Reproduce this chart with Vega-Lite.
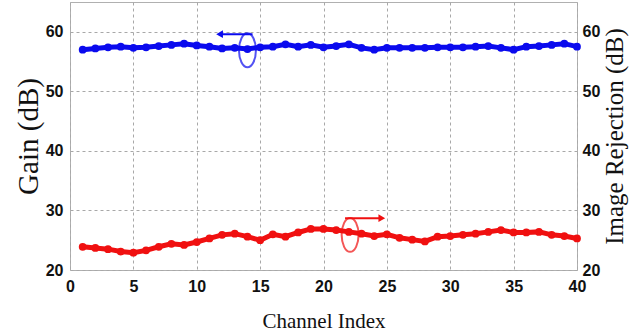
{
  "$schema": "https://vega.github.io/schema/vega-lite/v6.json",
  "width": 507,
  "height": 268,
  "autosize": {"type": "none"},
  "padding": {"left": 70, "top": 2, "right": 63, "bottom": 65},
  "background": "white",
  "config": {
    "view": {"stroke": "#b0b0b0", "strokeWidth": 1},
    "axis": {
      "labelFont": "Liberation Sans",
      "labelFontWeight": "bold",
      "labelFontSize": 16,
      "labelColor": "#111",
      "labelFlush": false,
      "titleFont": "Liberation Serif",
      "titleFontWeight": "normal",
      "titleColor": "#111",
      "domain": false,
      "ticks": false,
      "gridDash": [3, 3],
      "gridColor": "#a8a8a8",
      "gridWidth": 1,
      "gridOpacity": 1
    }
  },
  "datasets": {
    "gain": [
      {"ch": 1, "v": 57.0}, {"ch": 2, "v": 57.2}, {"ch": 3, "v": 57.4}, {"ch": 4, "v": 57.5},
      {"ch": 5, "v": 57.3}, {"ch": 6, "v": 57.4}, {"ch": 7, "v": 57.6}, {"ch": 8, "v": 57.8},
      {"ch": 9, "v": 58.0}, {"ch": 10, "v": 57.7}, {"ch": 11, "v": 57.5}, {"ch": 12, "v": 57.2},
      {"ch": 13, "v": 57.3}, {"ch": 14, "v": 57.1}, {"ch": 15, "v": 57.4}, {"ch": 16, "v": 57.5},
      {"ch": 17, "v": 57.9}, {"ch": 18, "v": 57.5}, {"ch": 19, "v": 57.8}, {"ch": 20, "v": 57.4},
      {"ch": 21, "v": 57.6}, {"ch": 22, "v": 57.9}, {"ch": 23, "v": 57.3}, {"ch": 24, "v": 57.0},
      {"ch": 25, "v": 57.3}, {"ch": 26, "v": 57.3}, {"ch": 27, "v": 57.3}, {"ch": 28, "v": 57.3},
      {"ch": 29, "v": 57.4}, {"ch": 30, "v": 57.4}, {"ch": 31, "v": 57.4}, {"ch": 32, "v": 57.5},
      {"ch": 33, "v": 57.6}, {"ch": 34, "v": 57.3}, {"ch": 35, "v": 57.0}, {"ch": 36, "v": 57.5},
      {"ch": 37, "v": 57.6}, {"ch": 38, "v": 57.8}, {"ch": 39, "v": 58.0}, {"ch": 40, "v": 57.5}
    ],
    "ir": [
      {"ch": 1, "v": 23.9}, {"ch": 2, "v": 23.7}, {"ch": 3, "v": 23.5}, {"ch": 4, "v": 23.1},
      {"ch": 5, "v": 22.9}, {"ch": 6, "v": 23.3}, {"ch": 7, "v": 23.9}, {"ch": 8, "v": 24.4},
      {"ch": 9, "v": 24.2}, {"ch": 10, "v": 24.7}, {"ch": 11, "v": 25.3}, {"ch": 12, "v": 25.9},
      {"ch": 13, "v": 26.1}, {"ch": 14, "v": 25.6}, {"ch": 15, "v": 25.0}, {"ch": 16, "v": 26.0},
      {"ch": 17, "v": 25.6}, {"ch": 18, "v": 26.3}, {"ch": 19, "v": 26.9}, {"ch": 20, "v": 26.9},
      {"ch": 21, "v": 26.7}, {"ch": 22, "v": 26.4}, {"ch": 23, "v": 26.1}, {"ch": 24, "v": 25.7},
      {"ch": 25, "v": 26.0}, {"ch": 26, "v": 25.4}, {"ch": 27, "v": 25.1}, {"ch": 28, "v": 24.8},
      {"ch": 29, "v": 25.6}, {"ch": 30, "v": 25.7}, {"ch": 31, "v": 25.9}, {"ch": 32, "v": 26.1},
      {"ch": 33, "v": 26.4}, {"ch": 34, "v": 26.7}, {"ch": 35, "v": 26.3}, {"ch": 36, "v": 26.3},
      {"ch": 37, "v": 26.4}, {"ch": 38, "v": 25.9}, {"ch": 39, "v": 25.7}, {"ch": 40, "v": 25.3}
    ],
    "rings": [
      {"series": "Gain", "ch": 14, "v": 56.9},
      {"series": "Image Rejection", "ch": 22.1, "v": 25.9}
    ],
    "arrows": [
      {"series": "Gain", "from": 14.4, "to": 11.8, "v": 59.6},
      {"series": "Image Rejection", "from": 21.7, "to": 24.6, "v": 28.7}
    ]
  },
  "resolve": {"scale": {"y": "independent"}},
  "layer": [
    {
      "data": {"name": "gain"},
      "mark": {"type": "line", "color": "#0a0aee", "strokeWidth": 5, "point": {"filled": true, "size": 60, "color": "#0a0aee"}},
      "encoding": {
        "x": {"field": "ch", "type": "quantitative", "scale": {"domain": [0, 40], "nice": false},
          "axis": {"values": [0, 5, 10, 15, 20, 25, 30, 35, 40], "title": "Channel Index", "titleFontSize": 21, "labelPadding": 8, "titlePadding": 16, "grid": true}},
        "y": {"field": "v", "type": "quantitative", "scale": {"domain": [20, 65], "nice": false, "zero": false},
          "axis": {"values": [20, 30, 40, 50, 60], "title": "Gain (dB)", "titleFontSize": 29, "labelPadding": 7, "titlePadding": 2, "grid": true}}
      }
    },
    {
      "data": {"name": "ir"},
      "mark": {"type": "line", "color": "#f01010", "strokeWidth": 5, "point": {"filled": true, "size": 60, "color": "#f01010"}},
      "encoding": {
        "x": {"field": "ch", "type": "quantitative"},
        "y": {"field": "v", "type": "quantitative", "scale": {"domain": [20, 65], "nice": false, "zero": false},
          "axis": {"orient": "right", "values": [20, 30, 40, 50, 60], "title": "Image Rejection (dB)", "titleFontSize": 25, "titleAngle": -90, "titleBaseline": "top", "labelPadding": 5, "titlePadding": 3, "grid": false}}
      }
    },
    {
      "data": {"name": "rings"},
      "mark": {"type": "point", "filled": false, "strokeWidth": 2, "size": 1150,
        "shape": "M0,-1C0.276,-1,0.5,-0.552,0.5,0C0.5,0.552,0.276,1,0,1C-0.276,1,-0.5,0.552,-0.5,0C-0.5,-0.552,-0.276,-1,0,-1Z"},
      "encoding": {
        "x": {"field": "ch", "type": "quantitative"},
        "y": {"field": "v", "type": "quantitative", "scale": {"domain": [20, 65], "nice": false, "zero": false}, "axis": null},
        "color": {"field": "series", "type": "nominal", "scale": {"domain": ["Gain", "Image Rejection"], "range": ["#0a0aee", "#f01010"]}, "legend": null}
      }
    },
    {
      "data": {"name": "arrows"},
      "mark": {"type": "rule", "strokeWidth": 2},
      "encoding": {
        "x": {"field": "from", "type": "quantitative"},
        "x2": {"field": "to"},
        "y": {"field": "v", "type": "quantitative", "scale": {"domain": [20, 65], "nice": false, "zero": false}, "axis": null},
        "color": {"field": "series", "type": "nominal", "scale": {"domain": ["Gain", "Image Rejection"], "range": ["#0a0aee", "#f01010"]}, "legend": null}
      }
    },
    {
      "data": {"name": "arrows"},
      "mark": {"type": "point", "filled": true, "size": 60, "opacity": 1},
      "encoding": {
        "x": {"field": "to", "type": "quantitative"},
        "y": {"field": "v", "type": "quantitative", "scale": {"domain": [20, 65], "nice": false, "zero": false}, "axis": null},
        "shape": {"field": "series", "type": "nominal", "scale": {"domain": ["Gain", "Image Rejection"], "range": ["triangle-left", "triangle-right"]}, "legend": null},
        "color": {"field": "series", "type": "nominal", "scale": {"domain": ["Gain", "Image Rejection"], "range": ["#0a0aee", "#f01010"]}, "legend": null}
      }
    }
  ]
}
